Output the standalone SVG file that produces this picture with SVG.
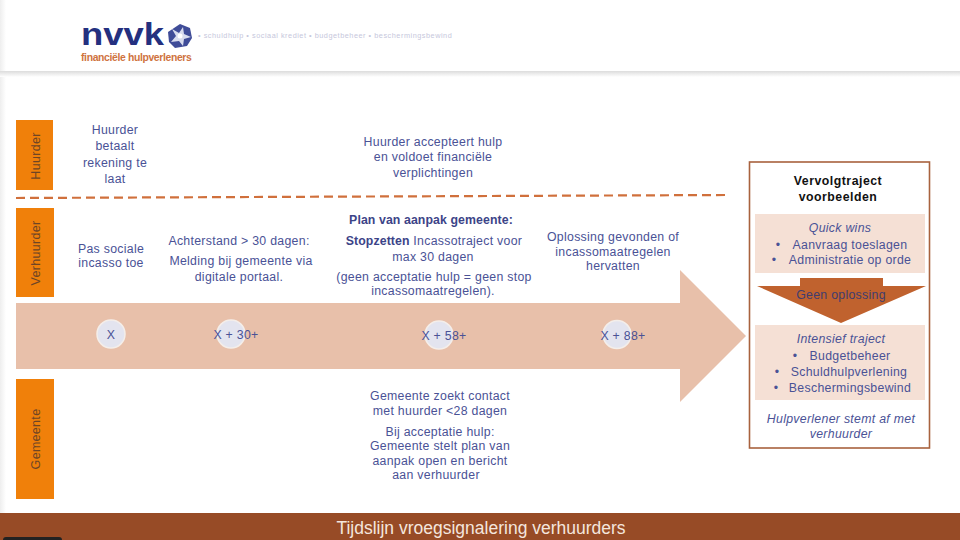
<svg xmlns="http://www.w3.org/2000/svg" width="960" height="540" viewBox="0 0 960 540">
<style>
text{font-family:"Liberation Sans",Arial,sans-serif;font-size:12.3px;fill:#4a5296;text-anchor:middle;letter-spacing:.3px}
.s{fill:#f0800a}
.side{fill:#6e4526;font-size:12.5px}
.c{fill:#e3e4ef;stroke:#f4eeea;stroke-width:1.5}
.b{font-weight:bold;fill:#3c4488;letter-spacing:.1px}
.i{font-style:italic}
.l{text-anchor:start}
.p{fill:#f5e0d5}
</style>
<defs>
<linearGradient id="hs" x1="0" y1="0" x2="0" y2="1"><stop offset="0" stop-color="#dcdcdc"/><stop offset="1" stop-color="#fff"/></linearGradient>
<linearGradient id="ls" x1="0" y1="0" x2="1" y2="0"><stop offset="0" stop-color="#eee"/><stop offset="1" stop-color="#fff"/></linearGradient>
</defs>
<rect width="960" height="540" fill="#fff"/>
<rect x="0" y="0" width="6" height="513" fill="url(#ls)"/>
<rect x="0" y="71" width="960" height="6" fill="url(#hs)"/>
<g id="logo">
<text x="81" y="44.500" class="l" style="font-size:31px;font-weight:bold;fill:#24307f;letter-spacing:0" textLength="83" lengthAdjust="spacingAndGlyphs">nvvk</text>
<polygon points="180,24 190,28 192,38 187,46 175,48 169,42 168,32" fill="#3f4c98"/>
<polygon points="183,27 184,34 191,37 184,39 183,46 179,41 171,42 176,36 172,29 179,33" fill="#d8dcee"/>
<circle cx="180" cy="36" r="2.500" fill="#fff"/>
<text x="81" y="61" class="l" style="font-size:10.4px;font-weight:bold;fill:#cf733f;letter-spacing:.2px" textLength="111">financiële hulpverleners</text>
<text x="198" y="38" class="l" style="font-size:7.3px;fill:#c6c7dc;letter-spacing:.25px" textLength="254">• schuldhulp  • sociaal krediet  • budgetbeheer  • beschermingsbewind</text>
</g>
<g id="connectors">
<line x1="16" y1="198" x2="727" y2="195" stroke="#d0703c" stroke-width="2.200" stroke-dasharray="9 5"/>
</g>
<g id="timeline">
<polygon points="16,303 680,303 680,270 746,336 680,402 680,369 16,369" fill="#e8c0aa"/>
</g>
<g id="lane-huurder">
<rect class="s" x="16" y="120" width="37" height="70"/>
<text class="side" transform="translate(39.500 156) rotate(-90)">Huurder</text>
<text x="115" y="134">Huurder</text><text x="115" y="150">betaalt</text><text x="115" y="167">rekening te</text><text x="115" y="183">laat</text>
<text x="433" y="145.500">Huurder accepteert hulp</text><text x="433" y="161">en voldoet financiële</text><text x="433" y="177">verplichtingen</text>
</g>
<g id="lane-verhuurder">
<rect class="s" x="16" y="208" width="38" height="89"/>
<text class="side" transform="translate(39.500 253) rotate(-90)">Verhuurder</text>
<text x="111" y="252.500">Pas sociale</text><text x="111" y="267">incasso toe</text>
<text x="239" y="245">Achterstand &gt; 30 dagen:</text><text x="241" y="265">Melding bij gemeente via</text><text x="239" y="281">digitale portaal.</text>
<text x="431" y="224" class="b">Plan van aanpak gemeente:</text>
<text x="434" y="244.500"><tspan class="b">Stopzetten</tspan> Incassotraject voor</text><text x="433" y="260.500">max 30 dagen</text>
<text x="434" y="281">(geen acceptatie hulp = geen stop</text><text x="433" y="295">incassomaatregelen).</text>
<text x="613" y="241">Oplossing gevonden of</text><text x="613" y="256">incassomaatregelen</text><text x="613" y="270">hervatten</text>
</g>
<g id="lane-gemeente">
<rect class="s" x="16" y="379" width="38" height="120"/>
<text class="side" transform="translate(39.500 439) rotate(-90)">Gemeente</text>
<text x="440" y="399.500">Gemeente zoekt contact</text><text x="440" y="414.500">met huurder &lt;28 dagen</text>
<text x="440" y="435.500">Bij acceptatie hulp:</text><text x="440" y="450">Gemeente stelt plan van</text><text x="440" y="464.500">aanpak open en bericht</text><text x="436" y="479">aan verhuurder</text>
</g>
<g id="m1"><circle class="c" cx="111" cy="334" r="14"/><text x="111" y="339">X</text></g>
<g id="m2"><circle class="c" cx="231" cy="334" r="14"/><text x="236" y="339">X + 30+</text></g>
<g id="m3"><circle class="c" cx="439" cy="335" r="14"/><text x="444" y="340">X + 58+</text></g>
<g id="m4"><circle class="c" cx="617" cy="334.500" r="14"/><text x="623" y="339.500">X + 88+</text></g>
<g id="vervolgtraject">
<rect x="749.500" y="162" width="180" height="286" fill="#fff" stroke="#a8623e" stroke-width="1.600"/>
<text x="838" y="185" style="font-weight:bold;fill:#111;letter-spacing:.5px">Vervolgtraject</text><text x="838" y="201" style="font-weight:bold;fill:#111;letter-spacing:.5px">voorbeelden</text>
<rect class="p" x="755" y="214" width="170" height="59"/>
<text x="840" y="232" class="i">Quick wins</text>
<text x="778" y="249">•</text><text x="850" y="249">Aanvraag toeslagen</text>
<text x="774" y="264">•</text><text x="850" y="264">Administratie op orde</text>
<polygon points="800,278 883,278 883,286 926,286 841,323 757,286 800,286" fill="#c0622e"/>
<text x="841" y="299" style="fill:#3f3d6e">Geen oplossing</text>
<rect class="p" x="755" y="325" width="170" height="75"/>
<text x="841" y="343" class="i">Intensief traject</text>
<text x="795" y="359.500">•</text><text x="850" y="359.500">Budgetbeheer</text>
<text x="777" y="376">•</text><text x="849" y="376">Schuldhulpverlening</text>
<text x="776" y="392">•</text><text x="850" y="392">Beschermingsbewind</text>
<text x="841" y="423" class="i">Hulpverlener stemt af met</text><text x="841" y="438" class="i">verhuurder</text>
</g>
<g id="footer">
<rect x="0" y="513" width="960" height="27" fill="#974b26"/>
<rect x="3" y="537" width="59" height="6" rx="3" fill="#222"/>
<text x="481" y="534" style="font-size:17.500px;fill:#f4e6de;letter-spacing:0">Tijdslijn vroegsignalering verhuurders</text>
</g>
</svg>
